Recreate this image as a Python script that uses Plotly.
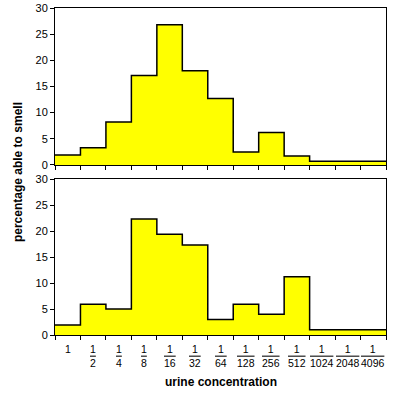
import plotly.graph_objects as go

# Data
dilutions = ["1", "1/2", "1/4", "1/8", "1/16", "1/32", "1/64", "1/128",
             "1/256", "1/512", "1/1024", "1/2048", "1/4096"]
group_a = [1.9, 3.3, 8.2, 17.1, 26.8, 18.0, 12.7, 2.5, 6.2, 1.7, 0.7, 0.7, 0.7]
group_b = [1.9, 5.9, 5.0, 22.3, 19.4, 17.3, 3.0, 5.9, 4.0, 11.2, 1.0, 1.0, 1.0]
y_ticks = [0, 5, 10, 15, 20, 25, 30]

FONT = "Liberation Sans, Arial, Helvetica, sans-serif"
YELLOW = "#ffff00"

n = len(dilutions)
edges = list(range(n + 1))

fig = go.Figure()
for vals, xa, ya in [(group_a, "x", "y"), (group_b, "x2", "y2")]:
    fig.add_trace(go.Scatter(
        x=edges, y=vals + [vals[-1]], mode="lines", line_shape="hv",
        line=dict(color="black", width=1.5), fill="tozeroy", fillcolor=YELLOW,
        xaxis=xa, yaxis=ya, showlegend=False, hoverinfo="skip"))

axis_common = dict(range=[0, n], tickvals=edges, showticklabels=False,
                   ticks="outside", ticklen=4, tickcolor="black", automargin=False,
                   showline=True, linecolor="black", linewidth=1, mirror=True,
                   showgrid=False, zeroline=False, fixedrange=True)
yaxis_common = dict(range=[0, 30], tickvals=y_ticks, ticks="outside", ticklen=4,
                    tickcolor="black", showline=True, linecolor="black", linewidth=1,
                    mirror=True, showgrid=False, zeroline=False, fixedrange=True,
                    automargin=False,
                    tickfont=dict(family=FONT, size=11, color="black"))

fig.update_layout(
    template="none",
    width=400, height=393,
    margin=dict(l=55, r=14, t=8, b=58, pad=0, autoexpand=False),
    paper_bgcolor="white", plot_bgcolor="white",
    xaxis=dict(domain=[0, 1], anchor="y", **axis_common),
    yaxis=dict(domain=[0.52, 1.0], anchor="x", **yaxis_common),
    xaxis2=dict(domain=[0, 1], anchor="y2", **axis_common),
    yaxis2=dict(domain=[0.0, 0.477], anchor="x2", **yaxis_common),
)

annotations = []
for i, lab in enumerate(dilutions):
    if "/" in lab:
        num, den = lab.split("/")
        text = f"{num}<br><span style='text-decoration:overline'>{den}</span>"
    else:
        text = lab
    annotations.append(dict(
        x=i + 0.5, xref="x2", y=0, yref="y2 domain", yanchor="top", yshift=-6,
        text=text, showarrow=False, align="center",
        font=dict(family=FONT, size=10.5, color="black")))

annotations.append(dict(
    x=0.5, xref="paper", y=0, yref="paper", yanchor="middle", yshift=-47,
    text="<b>urine concentration</b>", showarrow=False,
    font=dict(family=FONT, size=12, color="black")))
annotations.append(dict(
    x=-0.112, xref="paper", y=0.498, yref="paper", textangle=-90,
    xanchor="center", yanchor="middle",
    text="<b>percentage able to smell</b>", showarrow=False,
    font=dict(family=FONT, size=12, color="black")))

fig.update_layout(annotations=annotations)

post = (
    "document.documentElement.style.margin='0';"
    "document.body.style.margin='0';document.body.style.padding='0';"
    "var d=document.getElementsByClassName('plotly-graph-div')[0];"
    "d.style.position='absolute';d.style.left='0px';d.style.top='0px';"
)
fig.write_html("out.html", config={"displayModeBar": False}, post_script=post)
